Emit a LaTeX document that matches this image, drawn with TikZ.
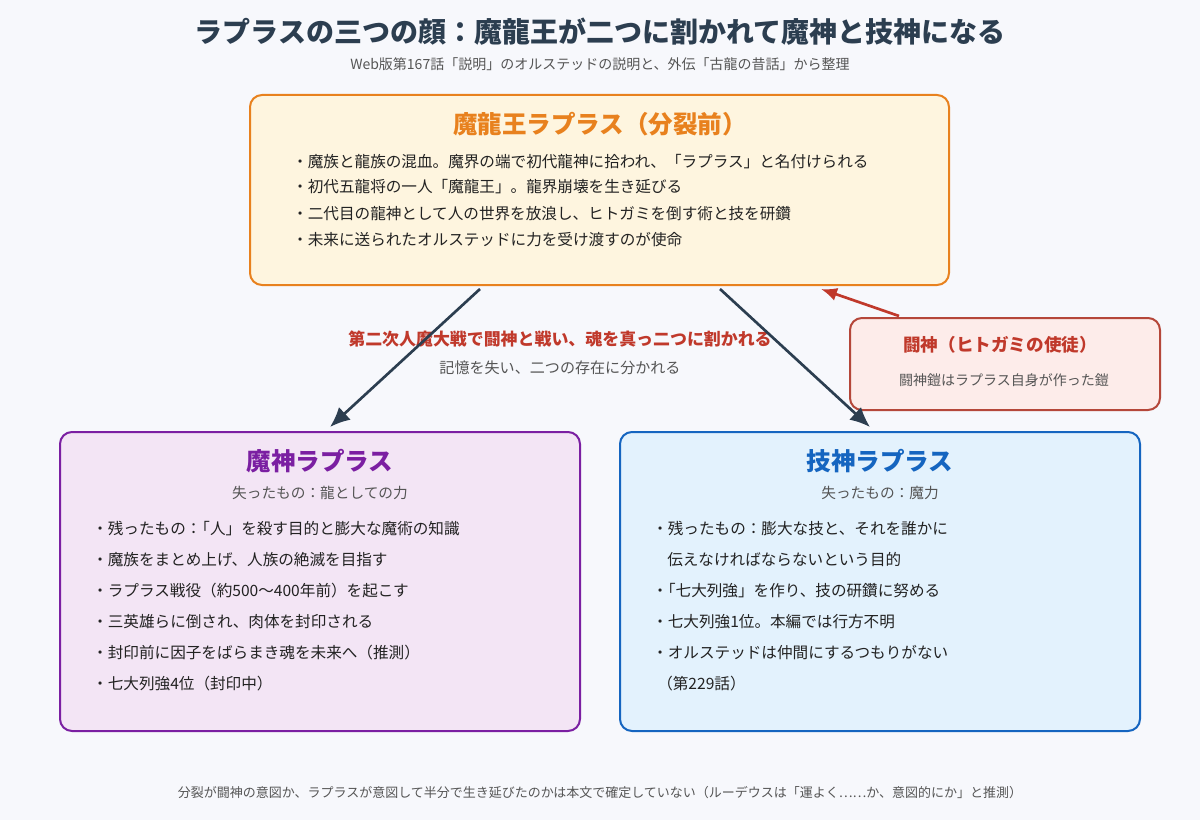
\documentclass[tikz,border=0pt]{standalone}
\usepackage{fontspec}
\setmainfont{Noto Sans CJK JP}
\usetikzlibrary{arrows.meta,calc}
\definecolor{bg}{HTML}{F7F8FC}
\definecolor{titlec}{HTML}{2C3E50}
\definecolor{subc}{HTML}{555555}
\definecolor{textc}{HTML}{222222}
\definecolor{orangec}{HTML}{E8811E}
\definecolor{creamfill}{HTML}{FEF5DF}
\definecolor{redc}{HTML}{C0392B}
\definecolor{redborder}{HTML}{B5473A}
\definecolor{redfill}{HTML}{FDECEA}
\definecolor{purplec}{HTML}{7B1FA2}
\definecolor{purplefill}{HTML}{F3E5F5}
\definecolor{bluec}{HTML}{1565C0}
\definecolor{bluefill}{HTML}{E3F2FD}
\definecolor{arrowc}{HTML}{2C3E50}
\tikzset{
  panel/.style={draw, line width=1.5pt, rounded corners=9pt, inner sep=0pt},
  plain/.style={inner sep=0pt},
  bullet/.style={anchor=west, inner sep=0pt, text=textc, font=\fontsize{11.7pt}{13pt}\selectfont},
  boxtitle/.style={inner sep=0pt, font=\bfseries\fontsize{18.4pt}{20pt}\selectfont},
  boxsub/.style={inner sep=0pt, text=subc, font=\fontsize{11pt}{13pt}\selectfont},
  arr/.style={draw=arrowc, line width=2pt, -{Latex[length=15pt,width=13pt]}},
  redarr/.style={draw=redc, line width=2pt, -{Latex[length=12pt,width=10pt]}},
}
\begin{document}
\begin{tikzpicture}[x=0.75pt,y=-0.75pt]
\useasboundingbox (0,0) rectangle (1200,820);
\fill[bg] (0,0) rectangle (1200,820);

% title
\node[plain, text=titlec, font=\bfseries\fontsize{21pt}{24pt}\selectfont] (title) at (600,32) {ラプラスの三つの顔：魔龍王が二つに割かれて魔神と技神になる};
\node[plain, text=subc, font=\fontsize{10.5pt}{12pt}\selectfont] (subtitle) at (600,64) {Web版第167話「説明」のオルステッドの説明と、外伝「古龍の昔話」から整理};

% top panel
\node[panel, draw=orangec, fill=creamfill, minimum width=524.25pt, minimum height=142.5pt] (top) at (599.5,190) {};
\node[boxtitle, text=orangec] (toptitle) at (600,124) {魔龍王ラプラス（分裂前）};
\node[bullet] (t1) at (292,162) {・魔族と龍族の混血。魔界の端で初代龍神に拾われ、「ラプラス」と名付けられる};
\node[bullet] (t2) at (292,187) {・初代五龍将の一人「魔龍王」。龍界崩壊を生き延びる};
\node[bullet] (t3) at (292,214) {・二代目の龍神として人の世界を放浪し、ヒトガミを倒す術と技を研鑽};
\node[bullet] (t4) at (292,240) {・未来に送られたオルステッドに力を受け渡すのが使命};

% middle labels
\node[plain, text=redc, font=\bfseries\fontsize{12.7pt}{14pt}\selectfont] (split) at (560,339) {第二次人魔大戦で闘神と戦い、魂を真っ二つに割かれる};
\node[plain, text=subc, font=\fontsize{11.3pt}{13pt}\selectfont] (splitsub) at (560,368) {記憶を失い、二つの存在に分かれる};

% red box
\node[panel, draw=redborder, fill=redfill, minimum width=232.5pt, minimum height=69pt] (toshin) at (1005,364) {};
\node[plain, text=redc, font=\bfseries\fontsize{13.2pt}{15pt}\selectfont] (toshintitle) at (1000,345) {闘神（ヒトガミの使徒）};
\node[plain, text=subc, font=\fontsize{10.5pt}{12pt}\selectfont] (toshinsub) at (1004,380) {闘神鎧はラプラス自身が作った鎧};

% left panel
\node[panel, draw=purplec, fill=purplefill, minimum width=390pt, minimum height=224.25pt] (left) at (320,581.5) {};
\node[boxtitle, text=purplec] (lefttitle) at (320,461) {魔神ラプラス};
\node[boxsub] (leftsub) at (320,493) {失ったもの：龍としての力};
\node[bullet] (l1) at (92,529) {・残ったもの：\kern-0.45em「人」を殺す目的と膨大な魔術の知識};
\node[bullet] (l2) at (92,560) {・魔族をまとめ上げ、人族の絶滅を目指す};
\node[bullet] (l3) at (92,591) {・ラプラス戦役（約500～400年前）を起こす};
\node[bullet] (l4) at (92,622) {・三英雄らに倒され、肉体を封印される};
\node[bullet] (l5) at (92,653) {・封印前に因子をばらまき魂を未来へ（推測）};
\node[bullet] (l6) at (92,684) {・七大列強4位（封印中）};

% right panel
\node[panel, draw=bluec, fill=bluefill, minimum width=390pt, minimum height=224.25pt] (right) at (880,581.5) {};
\node[boxtitle, text=bluec] (righttitle) at (880,461) {技神ラプラス};
\node[boxsub] (rightsub) at (880,493) {失ったもの：魔力};
\node[bullet] (r1) at (652,529) {・残ったもの：膨大な技と、それを誰かに};
\node[bullet] (r1b) at (667,560) {伝えなければならないという目的};
\node[bullet] (r2) at (652,591) {・\kern-0.5em「七大列強」を作り、技の研鑽に努める};
\node[bullet] (r3) at (652,622) {・七大列強1位。本編では行方不明};
\node[bullet] (r4) at (652,653) {・オルステッドは仲間にするつもりがない};
\node[bullet] (r4b) at (657,684) {（第229話）};

% footer
\node[plain, text=subc, font=\fontsize{9.75pt}{12pt}\selectfont] (footer) at (600,793) {分裂が闘神の意図か、ラプラスが意図して半分で生き延びたのかは本文で確定していない（ルーデウスは「運よく……か、意図的にか」と推測）};

% arrows
\draw[arr] ($(top.south)+(-119.5,3)$) -- ($(left.north)+(10,-4)$);
\draw[arr] ($(top.south)+(120.5,3)$) -- ($(right.north)+(-10,-4)$);
\draw[redarr] ($(toshin.north west)+(50,-1)$) -- ($(top.south east)+(-129,3)$);
\end{tikzpicture}
\end{document}
